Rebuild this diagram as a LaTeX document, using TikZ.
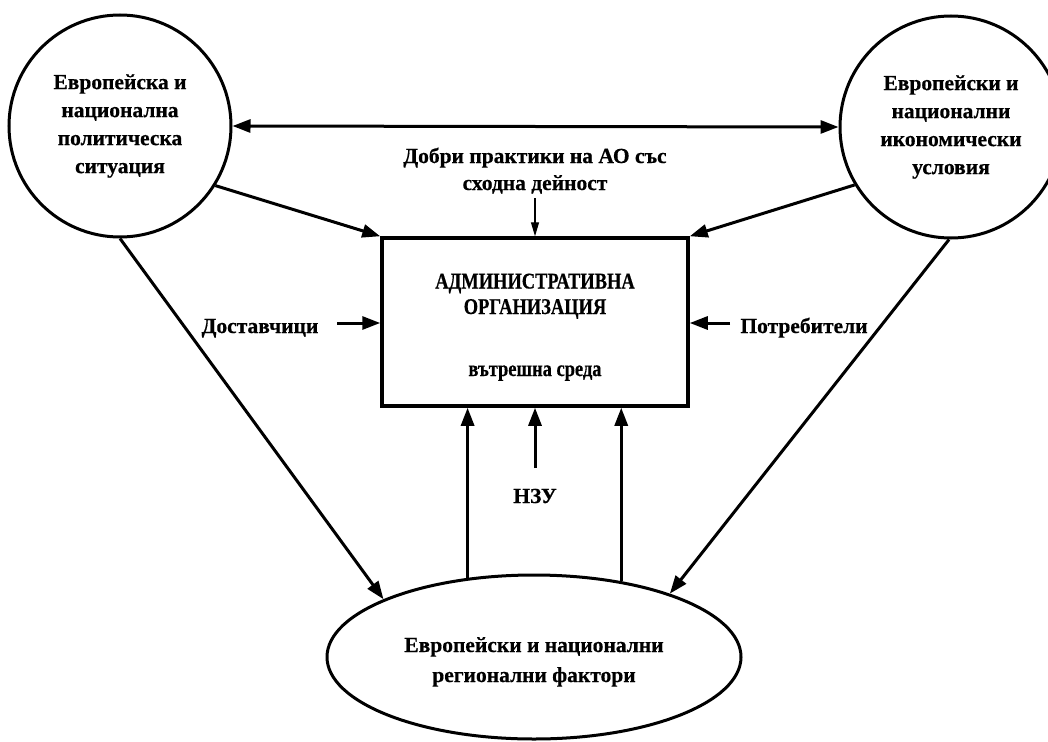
\documentclass[tikz,border=0pt]{standalone}
\usepackage{fontspec}
\setmainfont{Liberation Serif}[BoldFeatures={FakeBold=0.5}]
\newfontfamily\narrowfont{Liberation Serif}[FakeStretch=0.82, BoldFeatures={FakeBold=0.5}]
\usetikzlibrary{arrows.meta,shapes.geometric}

\tikzset{
  label text/.style={font=\fontsize{21.5}{28}\selectfont\bfseries, inner sep=0pt, align=center},
  box text/.style={font=\narrowfont\fontsize{22.5}{26}\selectfont\bfseries, inner sep=0pt, anchor=base},
  factor/.style={circle, draw, line width=3pt, minimum size=222pt, inner sep=0pt, label text},
  thick arrow/.style={line width=3pt, -{Triangle[length=18pt,width=13pt]}},
  thin arrow/.style={line width=1.2pt, -{Triangle[length=14pt,width=8pt]}}
}

\begin{document}
\begin{tikzpicture}[x=1pt,y=-1pt]
  \useasboundingbox (0,0) rectangle (1048,741);

  % outer factors
  \node[factor] (pol) at (120,126) {Европейска и\\национална\\политическа\\ситуация};
  \node[factor] (eco) at (951,127) {Европейски и\\национални\\икономически\\условия};
  \node[ellipse, draw, line width=3pt, minimum width=414pt, minimum height=164pt,
        inner sep=0pt, label text] (reg) at (534,657) {};
  \node[label text, anchor=base] (reg1) at (534,652) {Европейски и национални};
  \node[label text, anchor=base] (reg2) at (534,682) {регионални фактори};

  % the organisation itself
  \node[draw, line width=3.5pt, minimum width=306pt, minimum height=168pt, inner sep=0pt] (ao) at (535,322) {};
  \node[box text] (ao1) at (535,288.5) {АДМИНИСТРАТИВНА};
  \node[box text] (ao2) at (535,314) {ОРГАНИЗАЦИЯ};
  \node[box text] (ao3) at (535,376) {вътрешна среда};

  % labels
  \node[label text, anchor=base] (good1) at (535,163) {Добри практики на АО със};
  \node[label text, anchor=base] (good2) at (535,190) {сходна дейност};
  \node[label text, anchor=base] (dost) at (260,333) {Доставчици};
  \node[label text, anchor=base] (potr) at (804,333) {Потребители};
  \node[label text, anchor=base] (nzu) at (535,503) {НЗУ};

  % arrow tails
  \coordinate (goodTail) at (535,198);
  \coordinate (dostTail) at (337,323);
  \coordinate (potrTail) at (730,323);
  \coordinate (nzuTail) at (535,468);

  % connectors
  \draw[line width=3pt, {Triangle[length=18pt,width=13pt]}-{Triangle[length=18pt,width=13pt]}] (pol.east) -- (eco.west);
  \draw[thick arrow] (pol.-32) -- (ao.north west);
  \draw[thick arrow] (eco.-149) -- (ao.north east);
  \draw[thick arrow] (pol.-90) -- (reg.159);
  \draw[thick arrow] (eco.-91) -- (reg.25);
  \draw[thick arrow] (reg.130) -- (reg.130 |- ao.south);
  \draw[thick arrow] (reg.41) -- (reg.41 |- ao.south);
  \draw[thick arrow] (nzuTail) -- (ao.south);
  \draw[thick arrow] (dostTail) -- (dostTail -| ao.west);
  \draw[thick arrow] (potrTail) -- (potrTail -| ao.east);
  \draw[thin arrow] (goodTail) -- (ao.north);
\end{tikzpicture}
\end{document}
